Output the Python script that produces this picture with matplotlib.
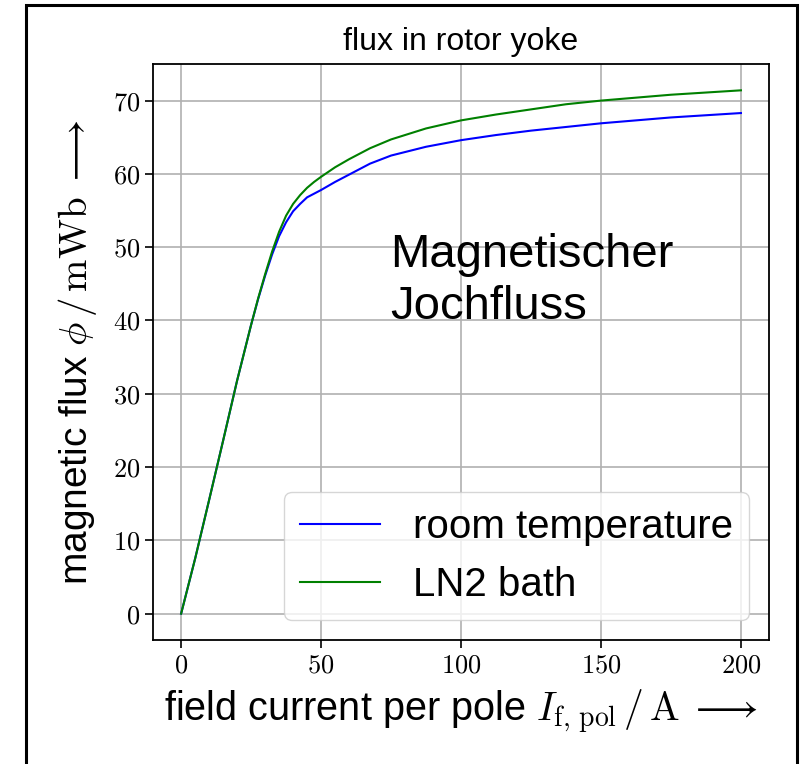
import matplotlib
matplotlib.use("Agg")
import matplotlib.pyplot as plt
from matplotlib.ticker import FuncFormatter
from matplotlib.patches import Rectangle

plt.rcParams['font.family'] = ['Liberation Sans', 'DejaVu Sans']
plt.rcParams['mathtext.fontset'] = 'cm'

# field current per pole in A
current = [0, 5, 10, 15, 20, 25, 27.5, 30, 32.5, 35, 37.5, 40, 42.5, 45, 47.5, 50, 55, 60,
           67.5, 75, 87.5, 100, 112.5, 125, 137.5, 150, 162.5, 175, 187.5, 200]
# magnetic flux in mWb
flux_room = [0, 7.5, 15.5, 23.6, 31.8, 39.4, 42.9, 46.1, 49.0, 51.5, 53.4, 54.9, 55.9, 56.8,
             57.3, 57.8, 58.9, 59.9, 61.4, 62.5, 63.7, 64.6, 65.3, 65.9, 66.4, 66.9, 67.3,
             67.7, 68.0, 68.3]
flux_ln2 = [0, 7.5, 15.5, 23.6, 31.8, 39.4, 43.0, 46.3, 49.4, 52.1, 54.3, 55.9, 57.1, 58.1,
            58.9, 59.6, 60.9, 62.0, 63.5, 64.7, 66.2, 67.3, 68.1, 68.8, 69.5, 70.0, 70.4,
            70.8, 71.1, 71.4]

x_ticks = [0, 50, 100, 150, 200]
y_ticks = [0, 10, 20, 30, 40, 50, 60, 70]

fig = plt.figure(figsize=(8.06, 7.64), dpi=100)
ax = fig.add_axes([0.190, 0.1623, 0.764, 0.754])

ax.plot(current, flux_room, color='blue', lw=1.5, label='room temperature')
ax.plot(current, flux_ln2, color='green', lw=1.5, label='LN2 bath')

ax.set_xlim(-10, 210)
ax.set_ylim(-3.6, 75)
ax.set_xticks(x_ticks)
ax.set_yticks(y_ticks)
fmt = FuncFormatter(lambda v, pos: f"${v:g}$")
ax.xaxis.set_major_formatter(fmt)
ax.yaxis.set_major_formatter(fmt)
ax.tick_params(labelsize=19, width=1.2, length=6, color='black')
ax.grid(True, color='#b0b0b0', lw=1.2)
for sp in ax.spines.values():
    sp.set_linewidth(1.3)

ax.set_title('flux in rotor yoke', fontsize=23, pad=10)
ax.set_xlabel(r'field current per pole $I_{\mathrm{f,\,pol}}\,/\,\mathrm{A}\;\longrightarrow$',
              fontsize=28.5, labelpad=8)
ax.set_ylabel(r'magnetic flux $\phi\,/\,\mathrm{mWb}\;\longrightarrow$', fontsize=28, labelpad=10)

ax.text(0.385, 0.707, 'Magnetischer\nJochfluss', transform=ax.transAxes, fontsize=34,
        va='top', ha='left', linespacing=1.25)

ax.legend(loc='lower right', fontsize=29)

# outer frame around the figure
fig.patches.append(Rectangle((0.032, -0.05), 0.957, 1.0435, transform=fig.transFigure,
                             fill=False, edgecolor='black', lw=2.2))

fig.savefig('out.png', dpi=100)
